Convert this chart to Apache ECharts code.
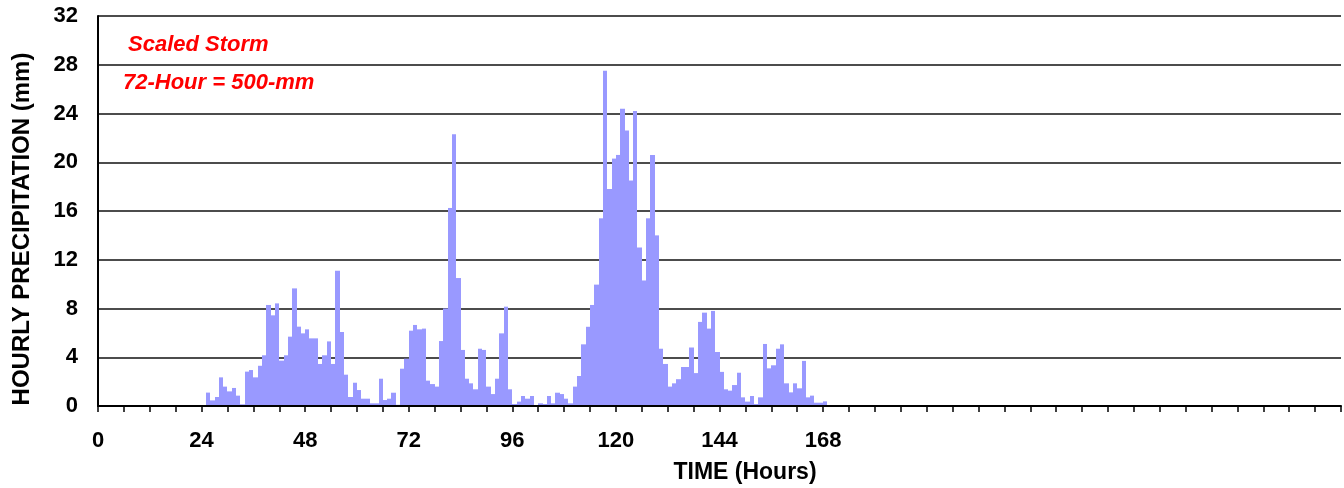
<!DOCTYPE html>
<html>
<head>
<meta charset="utf-8">
<script src="https://cdn.jsdelivr.net/npm/echarts@6/dist/echarts.min.js"></script>
<style>
html,body{margin:0;padding:0;background:#fff;}
#chart{width:1344px;height:488px;}
</style>
</head>
<body>
<div id="chart"></div>
<script>
// Hourly precipitation (mm), one value per hour starting at hour 25
const startHour = 25;
const precip = [
  1.1, 0.46, 0.74, 2.35, 1.59, 1.2, 1.48, 0.85, 0.14, 2.82,          // 25-34
  2.95, 2.35, 3.3, 4.16, 8.29, 7.44, 8.42, 3.72, 4.16, 5.69,          // 35-44
  9.65, 6.51, 5.96, 6.29, 5.55, 5.55, 3.45, 4.16, 5.3, 3.45,          // 45-54
  11.1, 6.07, 2.57, 0.74, 1.91, 1.31, 0.6, 0.6, 0.22, 0.22,           // 55-64
  2.24, 0.49, 0.6, 1.09, 0.1, 3.06, 3.88, 6.18, 6.65, 6.29,           // 65-74
  6.35, 2.08, 1.8, 1.59, 5.33, 8.0, 16.25, 22.3, 10.5, 4.6,           // 75-84
  2.24, 1.86, 1.37, 4.7, 4.6, 1.59, 0.98, 2.24, 5.96, 8.15,           // 85-94
  1.37, 0.16, 0.36, 0.82, 0.6, 0.82, 0.08, 0.22, 0.16, 0.82,          // 95-104
  0.22, 1.09, 0.98, 0.6, 0.22, 1.59, 2.46, 5.06, 6.5, 8.29,           // 105-114
  9.96, 15.4, 27.5, 17.8, 20.3, 20.6, 24.4, 22.6, 18.5, 24.2,         // 115-124
  13.0, 10.3, 15.4, 20.6, 14.0, 4.7, 3.45, 1.59, 1.86, 2.2,           // 125-134
  3.2, 3.2, 4.8, 2.7, 6.9, 7.66, 6.35, 7.8, 4.43, 2.8,                // 135-144
  1.37, 1.26, 1.72, 2.73, 0.71, 0.36, 0.82, 0.16, 0.71, 5.09,         // 145-154
  3.09, 3.34, 4.7, 5.06, 1.86, 1.12, 1.86, 1.45, 3.7, 0.71,           // 155-164
  0.85, 0.27, 0.27, 0.38                                              // 165-168
];
const xLabelHours = [0, 24, 48, 72, 96, 120, 144, 168];
const yTicks = [0, 4, 8, 12, 16, 20, 24, 28, 32];
const xTitle = 'TIME (Hours)';
const yTitle = 'HOURLY PRECIPITATION (mm)';
const note1 = 'Scaled Storm';
const note2 = '72-Hour = 500-mm';

const FONT = '"Liberation Sans", Arial, sans-serif';
const BAR = '#9999FF';
const data = precip.map((v, i) => [startHour + i, v]);

const chart = echarts.init(document.getElementById('chart'), null, {renderer: 'canvas'});
chart.setOption({
  animation: false,
  backgroundColor: '#fff',
  grid: {left: 98, right: -11, top: 16, bottom: 82, containLabel: false},
  xAxis: {
    type: 'value', min: 0, max: 288, interval: 6, z: 3,
    axisLine: {show: true, lineStyle: {color: '#000', width: 2}},
    axisTick: {show: true, length: 6, lineStyle: {color: '#000', width: 1.5}},
    splitLine: {show: false},
    axisLabel: {
      margin: 24, color: '#000', fontFamily: FONT, fontWeight: 'bold', fontSize: 22,
      formatter: v => xLabelHours.indexOf(v) >= 0 ? String(v) : ''
    }
  },
  yAxis: {
    type: 'value', min: yTicks[0], max: yTicks[yTicks.length - 1], interval: 4,
    axisLine: {show: true, lineStyle: {color: '#000', width: 2}},
    axisTick: {show: false},
    splitLine: {show: true, lineStyle: {color: '#111', width: 1.5}},
    axisLabel: {margin: 20, color: '#000', fontFamily: FONT, fontWeight: 'bold', fontSize: 22}
  },
  series: [{
    type: 'custom',
    data: data,
    encode: {x: 0, y: 1},
    renderItem: function (params, api) {
      const h = api.value(0), v = api.value(1);
      const p0 = api.coord([h, v]);
      const p1 = api.coord([h + 1, 0]);
      const x0 = Math.round(p0[0]), x1 = Math.round(p1[0]);
      return {
        type: 'rect',
        shape: {x: x0, y: p0[1], width: x1 - x0, height: p1[1] - p0[1]},
        style: {fill: BAR}
      };
    }
  }],
  graphic: [
    {type: 'text', x: 745, y: 473, style: {text: xTitle, fill: '#000', font: 'bold 23px ' + FONT, textAlign: 'center', textVerticalAlign: 'middle'}},
    {type: 'text', x: 22, y: 229, rotation: Math.PI / 2, style: {text: yTitle, fill: '#000', font: 'bold 24px ' + FONT, textAlign: 'center', textVerticalAlign: 'middle'}},
    {type: 'text', x: 128, y: 45, style: {text: note1, fill: '#FF0000', font: 'italic bold 22px ' + FONT, textAlign: 'left', textVerticalAlign: 'middle', textShadowColor: 'rgba(60,0,0,0.7)', textShadowOffsetX: 1, textShadowOffsetY: 1}},
    {type: 'text', x: 123, y: 83, style: {text: note2, fill: '#FF0000', font: 'italic bold 22px ' + FONT, textAlign: 'left', textVerticalAlign: 'middle', textShadowColor: 'rgba(60,0,0,0.7)', textShadowOffsetX: 1, textShadowOffsetY: 1}}
  ]
});
</script>
</body>
</html>
